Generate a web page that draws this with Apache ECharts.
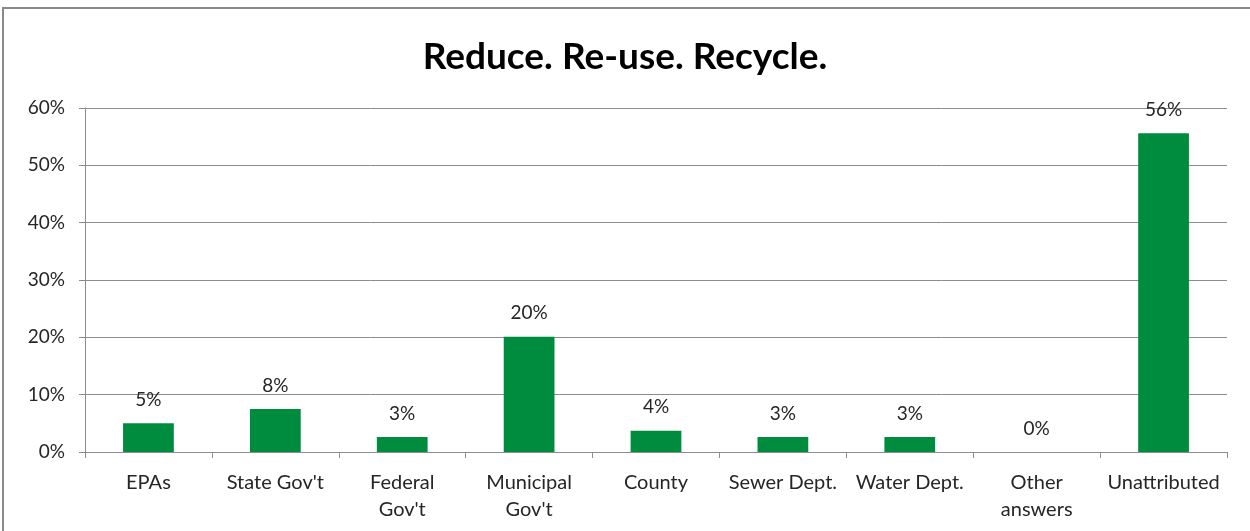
<!DOCTYPE html>
<html>
<head>
<meta charset="utf-8">
<script src="https://cdn.jsdelivr.net/npm/echarts@6/dist/echarts.min.js"></script>
<style>
html,body{margin:0;padding:0;background:#fff;}
#c{width:1250px;height:531px;}
</style>
</head>
<body>
<div id="c"></div>
<script>
var categories = ["EPAs", "State Gov't", "Federal\nGov't", "Municipal\nGov't", "County", "Sewer Dept.", "Water Dept.", "Other\nanswers", "Unattributed"];
var values = [5.0, 7.5, 2.6, 20.1, 3.7, 2.6, 2.6, 0, 55.6];
var yTicks = [0, 10, 20, 30, 40, 50, 60];
var titleText = "Reduce. Re-use. Recycle.";

var chart = echarts.init(document.getElementById('c'), null, {renderer: 'canvas'});
var font = 'Lato, "Open Sans", sans-serif';
chart.setOption({
  animation: false,
  backgroundColor: '#fff',
  graphic: [{
    type: 'rect', shape: {x: 3, y: 8, width: 1260, height: 540},
    style: {fill: 'none', stroke: '#8a8a8a', lineWidth: 2}, silent: true
  }],
  title: {
    text: titleText, left: 'center', top: 34,
    textStyle: {fontFamily: font, fontWeight: 'bold', fontSize: 37, color: '#000'}
  },
  grid: {left: 85, right: 23, top: 108, bottom: 79, containLabel: false},
  xAxis: {
    type: 'category', data: categories,
    axisLine: {lineStyle: {color: '#8c8c8c', width: 1}},
    axisTick: {show: true, length: 6, lineStyle: {color: '#8c8c8c'}},
    axisLabel: {fontFamily: font, fontSize: 20, color: '#262626', margin: 17, lineHeight: 27, interval: 0}
  },
  yAxis: {
    type: 'value', min: yTicks[0], max: yTicks[yTicks.length - 1], interval: 10,
    axisLine: {show: true, lineStyle: {color: '#8c8c8c'}},
    axisTick: {show: true, length: 6, lineStyle: {color: '#8c8c8c'}},
    splitLine: {lineStyle: {color: '#8c8c8c', width: 1}},
    axisLabel: {fontFamily: font, fontSize: 19, color: '#262626', margin: 20,
      formatter: function (v) { return v + '%'; }}
  },
  series: [{
    type: 'bar', data: values, barWidth: '40%',
    itemStyle: {color: '#008C3E'},
    label: {show: true, position: 'top', distance: 14, fontFamily: font, fontSize: 19, color: '#262626',
      formatter: function (p) { return Math.round(p.value) + '%'; }}
  }]
});
</script>
</body>
</html>
